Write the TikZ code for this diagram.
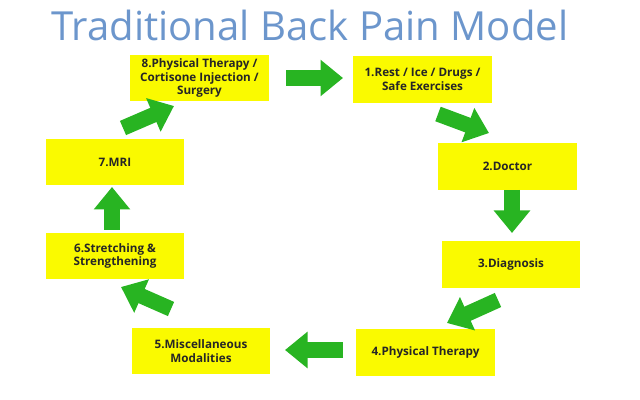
\documentclass[tikz,border=0pt]{standalone}
\usepackage{fontspec}
\setmainfont{Open Sans}
\usetikzlibrary{arrows.meta}
\definecolor{titleblue}{RGB}{108,150,204}
\definecolor{boxyellow}{RGB}{250,250,0}
\definecolor{flowgreen}{RGB}{40,180,34}
\tikzset{stage/.style={fill=boxyellow, minimum width=3.45cm, minimum height=1.15cm, inner sep=1pt,
    align=center, font=\fontsize{8.3}{9.6}\selectfont\bfseries, text=black!85}}
\tikzset{flow/.style={flowgreen, line width=11pt, line cap=butt,
    -{Triangle[length=16pt, width=25pt]}}}
\begin{document}
\begin{tikzpicture}[x=0.025cm, y=-0.025cm]
      \useasboundingbox (0,0) rectangle (640,400);
      \node[titleblue, font=\fontsize{28.5}{32}\selectfont] (title) at (310,25) {Traditional Back Pain Model};

      % the eight stages
      \node[stage] (s8) at (199.5,78) {8.Physical Therapy /\\Cortisone Injection /\\Surgery};
      \node[stage] (s1) at (422.5,79.5) {1.Rest / Ice / Drugs /\\Safe Exercises};
      \node[stage] (s2) at (507.5,166.5) {2.Doctor};
      \node[stage] (s3) at (511,264.5) {3.Diagnosis};
      \node[stage] (s4) at (425.5,352.5) {4.Physical Therapy};
      \node[stage] (s5) at (201,351) {5.Miscellaneous\\Modalities};
      \node[stage] (s6) at (115,256) {6.Stretching \&\\Strengthening};
      \node[stage] (s7) at (115,162) {7.MRI};

      % arrow ends
      \coordinate (a81) at (286,78);   \coordinate (b81) at (343,78);
      \coordinate (a12) at (438,114);  \coordinate (b12) at (489,133);
      \coordinate (a23) at (512,190);  \coordinate (b23) at (512,233);
      \coordinate (a34) at (498,300);  \coordinate (b34) at (447,323);
      \coordinate (a45) at (343,350);  \coordinate (b45) at (285,350);
      \coordinate (a56) at (171,309);  \coordinate (b56) at (121,287);
      \coordinate (a67) at (112,230);  \coordinate (b67) at (112,187);
      \coordinate (a78) at (123,128);  \coordinate (b78) at (174,106);

      \foreach \p in {81,12,23,34,45,56,67,78}
        \draw[flow] (a\p) -- (b\p);
    \end{tikzpicture}
\end{document}
